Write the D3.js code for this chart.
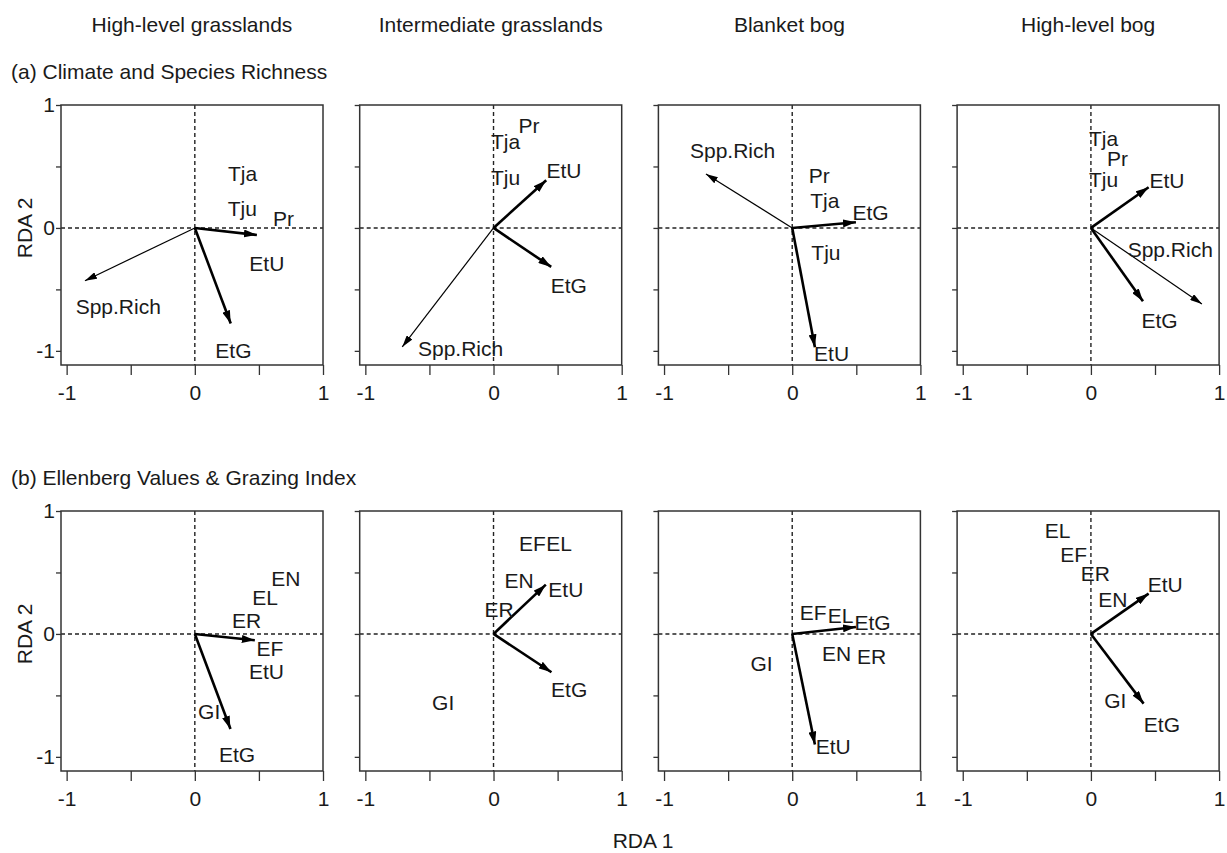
<!DOCTYPE html>
<html>
<head>
<meta charset="utf-8">
<script src="https://cdn.jsdelivr.net/npm/d3@7/dist/d3.min.js"></script>
<style>
  html, body { margin: 0; padding: 0; background: #fff; }
  svg text { font-family: "Liberation Sans", Arial, Helvetica, sans-serif; fill: #1a1a1a; }
</style>
</head>
<body>
<svg id="chart" width="1227" height="853"></svg>
<script>
// ---------- DATA ----------
const columns = ["High-level grasslands", "Intermediate grasslands", "Blanket bog", "High-level bog"];
const rowTitles = ["(a) Climate and Species Richness", "(b) Ellenberg Values & Grazing Index"];
const axisTicks = [-1, -0.5, 0, 0.5, 1];
const labelledTicks = [-1, 0, 1];
const xAxisTitle = "RDA 1";
const yAxisTitle = "RDA 2";

// Arrows: [panel, variable, RDA1, RDA2, thick?]
const climateArrows = [
  [0, "EtU", 0.484, -0.057, true], [0, "EtG", 0.280, -0.777, true], [0, "Spp.Rich", -0.857, -0.429, false],
  [1, "EtU", 0.411, 0.388, true], [1, "EtG", 0.450, -0.317, true], [1, "Spp.Rich", -0.712, -0.968, false],
  [2, "EtG", 0.497, 0.046, true], [2, "EtU", 0.177, -0.971, true], [2, "Spp.Rich", -0.673, 0.439, false],
  [3, "EtU", 0.450, 0.331, true], [3, "EtG", 0.406, -0.597, true], [3, "Spp.Rich", 0.866, -0.618, false]
];
// Labels: [panel, text, RDA1, RDA2]
const climateLabels = [
  [0, "Tja", 0.373, 0.444], [0, "Tju", 0.371, 0.159], [0, "Pr", 0.691, 0.078],
  [0, "EtU", 0.562, -0.288], [0, "Spp.Rich", -0.597, -0.641], [0, "EtG", 0.301, -0.993],
  [1, "Pr", 0.276, 0.835], [1, "Tja", 0.094, 0.700], [1, "Tju", 0.094, 0.410],
  [1, "EtU", 0.549, 0.469], [1, "EtG", 0.588, -0.466], [1, "Spp.Rich", -0.257, -0.982],
  [2, "Spp.Rich", -0.465, 0.629], [2, "Pr", 0.211, 0.426], [2, "Tja", 0.255, 0.222],
  [2, "EtG", 0.611, 0.127], [2, "Tju", 0.263, -0.198], [2, "EtU", 0.307, -1.025],
  [3, "Tja", 0.099, 0.730], [3, "Pr", 0.208, 0.568], [3, "Tju", 0.099, 0.398],
  [3, "EtU", 0.593, 0.385], [3, "Spp.Rich", 0.619, -0.171], [3, "EtG", 0.536, -0.749]
];
const ellenbergArrows = [
  [0, "EtU", 0.468, -0.052, true], [0, "EtG", 0.278, -0.773, true],
  [1, "EtU", 0.408, 0.401, true], [1, "EtG", 0.452, -0.312, true],
  [2, "EtG", 0.497, 0.057, true], [2, "EtU", 0.177, -0.900, true],
  [3, "EtU", 0.450, 0.328, true], [3, "EtG", 0.411, -0.567, true]
];
const ellenbergLabels = [
  [0, "EN", 0.710, 0.448], [0, "EL", 0.549, 0.293], [0, "ER", 0.403, 0.111],
  [0, "EF", 0.585, -0.114], [0, "EtU", 0.559, -0.304], [0, "GI", 0.112, -0.629], [0, "EtG", 0.330, -0.982],
  [1, "EF", 0.304, 0.740], [1, "EL", 0.512, 0.740], [1, "EN", 0.200, 0.437], [1, "EtU", 0.564, 0.361],
  [1, "ER", 0.044, 0.198], [1, "EtG", 0.590, -0.453], [1, "GI", -0.393, -0.556],
  [2, "EF", 0.164, 0.176], [2, "EL", 0.377, 0.149], [2, "EtG", 0.627, 0.090],
  [2, "EN", 0.346, -0.160], [2, "ER", 0.619, -0.182], [2, "GI", -0.239, -0.236], [2, "EtU", 0.320, -0.914],
  [3, "EL", -0.260, 0.843], [3, "EF", -0.135, 0.646], [3, "ER", 0.034, 0.491], [3, "EN", 0.172, 0.279],
  [3, "EtU", 0.580, 0.401], [3, "GI", 0.190, -0.540], [3, "EtG", 0.554, -0.738]
];
const rowArrows = [climateArrows, ellenbergArrows];
const rowLabels = [climateLabels, ellenbergLabels];

// ---------- LAYOUT ----------
const svg = d3.select("#chart");
const panelLeft0 = 61, panelStep = 298.7, panelW = 262, panelH = 260;
const rowTop = [105, 511];
const xDomain = [-1.044, 1], yDomain = [-1.115, 1];
const fontSize = 21;
const frameColor = "#333";

const defs = svg.append("defs");
function addMarker(id, len, wid) {
  defs.append("marker")
    .attr("id", id)
    .attr("markerUnits", "userSpaceOnUse")
    .attr("markerWidth", len).attr("markerHeight", wid)
    .attr("refX", len).attr("refY", wid / 2)
    .attr("orient", "auto")
    .append("path")
    .attr("d", `M0,0 L${len},${wid / 2} L0,${wid} Z`)
    .attr("fill", "#000");
}
addMarker("headThick", 13, 8);
addMarker("headThin", 12, 7);

// column titles
columns.forEach((c, i) => {
  svg.append("text")
    .attr("x", panelLeft0 + i * panelStep + panelW / 2)
    .attr("y", 32)
    .attr("text-anchor", "middle")
    .attr("font-size", fontSize)
    .text(c);
});

rowTitles.forEach((t, r) => {
  svg.append("text")
    .attr("x", 11)
    .attr("y", rowTop[r] - 26)
    .attr("font-size", fontSize)
    .text(t);
});

for (let r = 0; r < 2; r++) {
  const top = rowTop[r];
  for (let c = 0; c < 4; c++) {
    const L = panelLeft0 + c * panelStep;
    const x = d3.scaleLinear().domain(xDomain).range([L, L + panelW]);
    const y = d3.scaleLinear().domain(yDomain).range([top + panelH, top]);
    const g = svg.append("g");

    // dashed zero lines
    g.append("line")
      .attr("x1", x(0)).attr("x2", x(0))
      .attr("y1", top).attr("y2", top + panelH)
      .attr("stroke", "#222").attr("stroke-width", 1.4).attr("stroke-dasharray", "4,3");
    g.append("line")
      .attr("x1", L).attr("x2", L + panelW)
      .attr("y1", y(0)).attr("y2", y(0))
      .attr("stroke", "#222").attr("stroke-width", 1.4).attr("stroke-dasharray", "4,3");

    // axes
    const xAxis = d3.axisBottom(x).tickValues(axisTicks).tickSize(10).tickPadding(10)
      .tickFormat(d => labelledTicks.includes(d) ? String(d) : "");
    const gx = g.append("g").attr("transform", `translate(0,${top + panelH})`).call(xAxis);
    gx.select(".domain").remove();
    gx.selectAll("line").attr("stroke", frameColor).attr("stroke-width", 1.3);
    gx.selectAll("text").attr("font-size", fontSize).attr("font-family", null).attr("fill", "#1a1a1a");

    const yAxis = d3.axisLeft(y).tickValues(axisTicks).tickSize(5).tickPadding(1)
      .tickFormat(d => (c === 0 && labelledTicks.includes(d)) ? String(d) : "");
    const gy = g.append("g").attr("transform", `translate(${L},0)`).call(yAxis);
    gy.select(".domain").remove();
    gy.selectAll("line").attr("stroke", frameColor).attr("stroke-width", 1.3);
    gy.selectAll("text").attr("font-size", fontSize).attr("font-family", null).attr("fill", "#1a1a1a");

    // frame
    g.append("rect")
      .attr("x", L).attr("y", top).attr("width", panelW).attr("height", panelH)
      .attr("fill", "none").attr("stroke", frameColor).attr("stroke-width", 1.5);

    // arrows
    rowArrows[r].filter(a => a[0] === c).forEach(a => {
      g.append("line")
        .attr("x1", x(0)).attr("y1", y(0))
        .attr("x2", x(a[2])).attr("y2", y(a[3]))
        .attr("stroke", "#000")
        .attr("stroke-width", a[4] ? 2.6 : 1.2)
        .attr("marker-end", a[4] ? "url(#headThick)" : "url(#headThin)");
    });

    // labels
    rowLabels[r].filter(l => l[0] === c).forEach(l => {
      g.append("text")
        .attr("x", x(l[2])).attr("y", y(l[3]))
        .attr("dy", "0.36em")
        .attr("text-anchor", "middle")
        .attr("font-size", fontSize)
        .text(l[1]);
    });

    if (c === 0) {
      svg.append("text")
        .attr("transform", `translate(32,${y(0)}) rotate(-90)`)
        .attr("text-anchor", "middle")
        .attr("font-size", fontSize)
        .text(yAxisTitle);
    }
  }
}

svg.append("text")
  .attr("x", 643).attr("y", 848)
  .attr("text-anchor", "middle")
  .attr("font-size", fontSize)
  .text(xAxisTitle);
</script>
</body>
</html>
